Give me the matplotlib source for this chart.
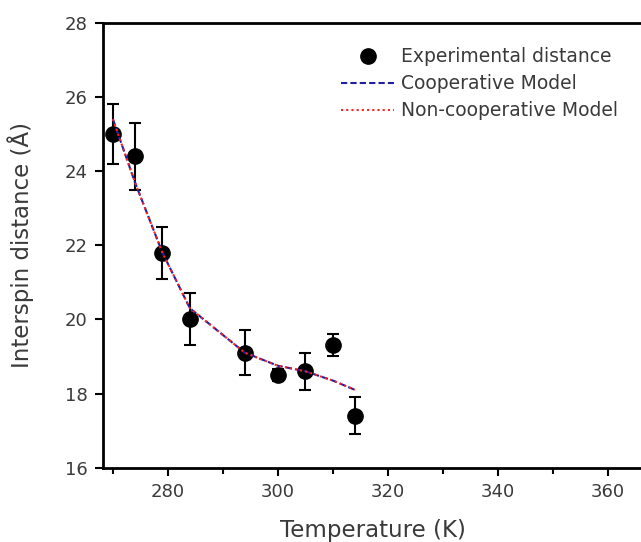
import matplotlib
matplotlib.use("Agg")
import matplotlib.pyplot as plt
from matplotlib.ticker import MultipleLocator
from matplotlib.lines import Line2D

plt.rcParams['font.family'] = ['DejaVu Sans']

temps = [270, 274, 279, 284, 294, 300, 305, 310, 314]
distance = [25.0, 24.4, 21.8, 20.0, 19.1, 18.5, 18.6, 19.3, 17.4]
errors = [0.8, 0.9, 0.7, 0.7, 0.6, 0.15, 0.5, 0.3, 0.5]
coop_model = [25.4, 23.7, 21.8, 20.3, 19.1, 18.75, 18.6, 18.35, 18.1]
noncoop_model = [25.4, 23.7, 21.8, 20.3, 19.1, 18.75, 18.6, 18.35, 18.1]

fig = plt.figure(figsize=(6.41, 5.42), dpi=100)
ax = fig.add_axes([103/641, 74.3/542, 540/641, 445/542])

tc = '#3a3a3a'
ax.errorbar(temps, distance, yerr=errors, fmt='o', color='black', ms=11,
            capsize=4.5, elinewidth=1.5, capthick=1.5, zorder=2)
l1, = ax.plot(temps, coop_model, color='#2020a0', ls=(0, (3, 1.5)), lw=1.5, zorder=3)
l2, = ax.plot(temps, noncoop_model, color='#ff2020', ls=(0, (1, 1.5)), lw=1.5, zorder=4)

ax.set_xlim(268.2, 366.4)
ax.set_ylim(16, 28)
ax.xaxis.set_minor_locator(MultipleLocator(10))
ax.yaxis.set_major_locator(MultipleLocator(2))
ax.set_xticks([280, 300, 320, 340, 360])
ax.tick_params(which='major', direction='out', length=6, width=1.5, labelsize=13,
               labelcolor=tc, pad=5)
ax.tick_params(which='minor', direction='out', length=4, width=1.5)
ax.spines['right'].set_visible(False)
for s in ax.spines.values():
    s.set_linewidth(2)

ax.set_xlabel('Temperature (K)', fontsize=16.5, color=tc, labelpad=13)
ax.set_ylabel('Interspin distance (Å)', fontsize=16.5, color=tc, labelpad=22)

handles = [Line2D([], [], marker='o', ls='none', color='black', ms=11),
           Line2D([], [], color='#2020a0', ls=(0, (3, 1.5)), lw=1.5),
           Line2D([], [], color='#ff2020', ls=(0, (1, 1.5)), lw=1.5)]
labels = ['Experimental distance', 'Cooperative Model', 'Non-cooperative Model']
leg = ax.legend(handles, labels, loc='upper left', bbox_to_anchor=(332/641, 1 - 38/542),
                bbox_transform=fig.transFigure, frameon=False, fontsize=13.5,
                handlelength=2.8, handletextpad=0.4, labelspacing=0.42,
                borderpad=0)
for t in leg.get_texts():
    t.set_color(tc)

fig.savefig('out.png', dpi=100)
